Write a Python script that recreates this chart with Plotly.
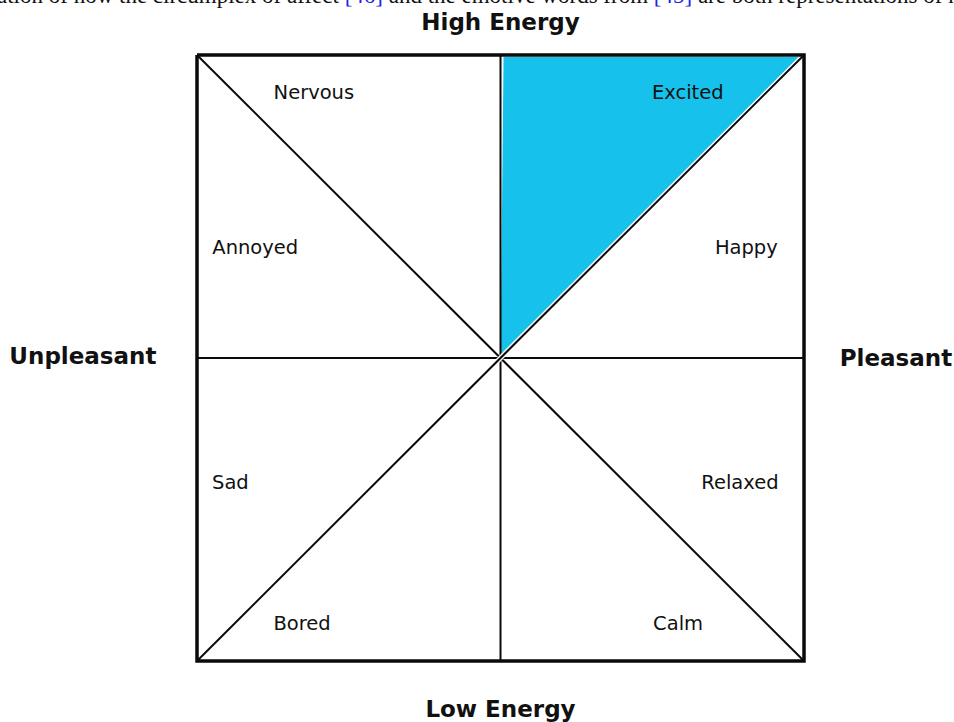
import plotly.graph_objects as go

# ---- data (pleasantness x, energy y, both in [-1, 1]) ----
emotions = ["Nervous", "Excited", "Annoyed", "Happy", "Sad", "Relaxed", "Bored", "Calm"]
emotion_x = [-0.615, 0.617, -0.808, 0.81, -0.89, 0.789, -0.654, 0.585]
emotion_y = [0.871, 0.871, 0.359, 0.359, -0.416, -0.416, -0.882, -0.882]

axis_labels = ["High Energy", "Low Energy", "Unpleasant", "Pleasant"]
axis_label_x = [0.0, 0.0, -1.376, 1.303]
axis_label_y = [1.102, -1.165, -0.002, -0.007]

highlight_x = [0.01, 0.988, 0.0, 0.01]
highlight_y = [0.993, 0.993, 0.01, 0.993]

border_x = [-1, 1, 1, -1, -1]
border_y = [1, 1, -1, -1, 1]

# inner lines: vertical, horizontal, two diagonals
inner_lines = [
    ([0, 0], [1, -1]),
    ([-1, 1], [0, 0]),
    ([-1, 1], [1, -1]),
    ([-1, 1], [-1, 1]),
]

fig = go.Figure()

fig.add_trace(go.Scatter(x=highlight_x, y=highlight_y, mode="lines", fill="toself",
                         fillcolor="#16C2EB", line=dict(width=0), hoverinfo="skip"))

for i, (lx, ly) in enumerate(inner_lines):
    if i == 3:
        fig.add_trace(go.Scatter(x=lx, y=ly, mode="lines",
                                 line=dict(color="white", width=5), hoverinfo="skip"))
    fig.add_trace(go.Scatter(x=lx, y=ly, mode="lines",
                             line=dict(color="#0a0a0a", width=2), hoverinfo="skip"))

fig.add_trace(go.Scatter(x=border_x, y=border_y, mode="lines",
                         line=dict(color="#0a0a0a", width=3.5), hoverinfo="skip"))

fig.add_trace(go.Scatter(x=emotion_x, y=emotion_y, mode="text", text=emotions,
                         textfont=dict(family="DejaVu Sans", size=19.5, color="#111"),
                         hoverinfo="skip"))

fig.add_trace(go.Scatter(x=axis_label_x, y=axis_label_y, mode="text", text=axis_labels,
                         textfont=dict(family="DejaVu Sans", size=23, color="#111", weight="bold"),
                         hoverinfo="skip"))

caption = ("ation of how the circumplex of affect <span style='color:#2323e0'>[46]</span> "
           "and the emotive words from <span style='color:#2323e0'>[45]</span> "
           "are both representations of human emotion")
fig.add_annotation(x=-0.005, y=0.9865, xref="paper", yref="paper", xanchor="left", yanchor="bottom",
                   text=caption, showarrow=False,
                   font=dict(family="Liberation Serif", size=23, color="#111"))

fig.update_layout(
    width=954, height=722,
    margin=dict(l=0, r=0, t=0, b=0),
    paper_bgcolor="white", plot_bgcolor="white",
    showlegend=False,
    xaxis=dict(range=[-1.6491, 1.4942], visible=False, fixedrange=True),
    yaxis=dict(range=[-1.2013, 1.1815], visible=False, fixedrange=True),
)

fig.write_html("out.html", config={"displayModeBar": False},
               post_script="document.body.style.margin='0px';document.body.style.overflow='hidden';")
